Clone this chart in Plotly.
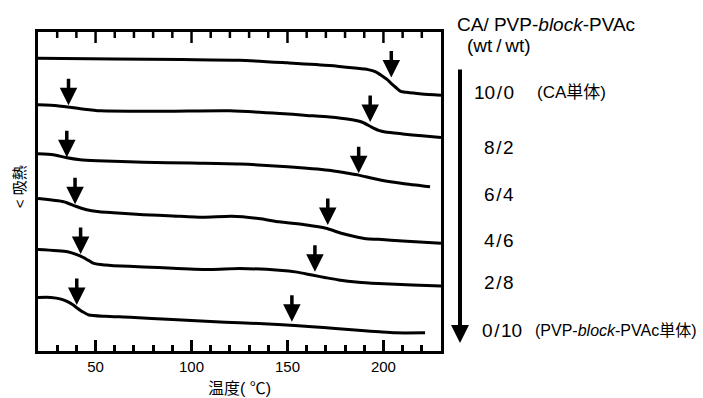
import plotly.graph_objects as go

# ---------------- data (temperature in °C, relative heat flow, arbitrary units) -------------
ratio_labels = ["10/0", "8/2", "6/4", "4/6", "2/8", "0/10"]

t_10_0 = [20, 60, 95, 125, 150, 172, 185, 192, 196, 199, 202, 204, 206.5, 209, 212, 220, 230]
v_10_0 = [90.8, 90.6, 90.4, 90.2, 89.4, 88.6, 87.8, 87.3, 86.6, 85.5, 84.2, 83.1, 81.8, 80.6, 80.3, 79.8, 79.4]

t_8_2 = [20, 30, 35.5, 44, 52.6, 70, 90, 120, 146, 160, 172, 182, 189, 193.8, 197.5, 201, 210, 220, 230]
v_8_2 = [76.5, 76.2, 75.8, 75.1, 74.6, 74.5, 74.5, 74.6, 73.8, 73.2, 72.7, 72.0, 71.1, 69.6, 68.6, 68.1, 67.5, 66.9, 66.4]

t_6_4 = [20, 28, 34.5, 42, 50.9, 75, 100, 125, 150, 171.6, 180, 187.1, 193, 199, 210, 224.3]
v_6_4 = [61.4, 61.1, 60.2, 59.5, 59.2, 58.8, 58.5, 58.2, 57.4, 56.3, 55.5, 54.8, 54.0, 53.2, 52.2, 51.2]

t_4_6 = [20, 33.4, 39.7, 44.8, 52, 59.3, 75, 90.3, 105.9, 121, 135, 145.7, 160, 170, 178, 185.5, 191, 197.4, 210, 230]
v_4_6 = [47.6, 46.6, 45.2, 44.2, 43.5, 43.2, 42.6, 42.2, 41.8, 42.1, 41.4, 40.4, 39.4, 38.4, 36.9, 35.8, 35.2, 35.0, 34.5, 33.8]

t_2_8 = [20, 35.4, 42.2, 46, 49, 55, 59.3, 75, 90.3, 110, 125, 145.7, 155, 162.8, 170, 176.7, 187, 197.4, 215, 230]
v_2_8 = [31.9, 31.2, 29.8, 28.6, 27.6, 27.1, 26.9, 26.5, 26.1, 25.7, 26.0, 25.5, 24.9, 24.0, 23.2, 22.5, 21.8, 21.4, 20.9, 20.6]

t_0_10 = [20, 26.7, 32, 35.4, 38, 40.5, 43.5, 46.5, 55, 68.1, 90, 110, 125, 145, 162.8, 175, 188.6, 198, 206.2, 221.7]
v_0_10 = [17.1, 17.1, 16.6, 15.8, 14.9, 13.8, 12.6, 11.7, 11.3, 11.0, 10.3, 9.7, 9.3, 8.8, 8.1, 7.5, 6.9, 6.5, 6.2, 6.2]

# glass-transition markers (arrow tips): temperature, signal
tg_t = [[204.1], [35.9, 193.1], [35.0, 187.1], [39.3, 171.0], [42.2, 164.3], [40.2, 152.3]]
tg_v = [[84.9], [76.3, 71.2], [60.3, 55.4], [45.8, 39.4], [30.5, 25.0], [14.8, 9.6]]

x_ticks = [50, 100, 150, 200]
x_minor_step = 10
x_range = [20, 230]

curves_t = [t_10_0, t_8_2, t_6_4, t_4_6, t_2_8, t_0_10]
curves_v = [v_10_0, v_8_2, v_6_4, v_4_6, v_2_8, v_0_10]

# ---------------- layout geometry ----------------
W, H = 703, 398
L, R, T, B = 38, 262, 31.5, 47
PW, PH = W - L - R, H - T - B
FONT = "Liberation Sans, Arial, Noto Sans CJK JP, sans-serif"
MAJOR_LEN, MINOR_LEN = 11, 6


def paper(px, py):
    return (px - L) / PW, (H - B - py) / PH


fig = go.Figure()
for ts, vs in zip(curves_t, curves_v):
    fig.add_trace(go.Scatter(x=ts, y=vs, mode="lines",
                             line=dict(color="black", width=3, shape="spline", smoothing=0.6),
                             hoverinfo="skip"))

annotations = []
for ts, vs in zip(tg_t, tg_v):
    for t, v in zip(ts, vs):
        annotations.append(dict(x=t, y=v, xref="x", yref="y", text="", showarrow=True,
                                ax=0, ay=-28, arrowhead=2, arrowsize=1.0, arrowwidth=3.5,
                                arrowcolor="black", standoff=0))


def label(px, py, text, size=19, anchor="left"):
    x, y = paper(px, py)
    annotations.append(dict(x=x, y=y, xref="paper", yref="paper", text=text, showarrow=False,
                            xanchor=anchor, yanchor="middle",
                            font=dict(family=FONT, size=size, color="black")))


label(455, 24, "CA/ PVP-<i>block</i>-PVAc", 19)
label(465, 45, "(wt\u2009/\u2009wt)", 19)
label_pos = [(472, 92), (482, 147), (482, 194), (482, 240), (482, 282), (480, 330)]
for (px, py), txt in zip(label_pos, ratio_labels):
    label(px, py, txt.replace("/", "\u200a/\u200a"), 19)
label(535, 92, "(CA単体)", 17)
label(533, 330, "(PVP-<i>block</i>-PVAc単体)", 16)

# big arrow of composition change
ax_, ay_ = paper(460, 343)
annotations.append(dict(x=ax_, y=ay_, xref="paper", yref="paper", text="", showarrow=True,
                        ax=0, ay=-275, arrowhead=2, arrowsize=0.9, arrowwidth=4,
                        arrowcolor="black", standoff=0))

# axis titles
yx, yy = paper(19, 187)
annotations.append(dict(x=yx, y=yy, xref="paper", yref="paper", text="< 吸熱", showarrow=False,
                        textangle=-90, xanchor="center", yanchor="middle",
                        font=dict(family=FONT, size=15, color="black")))
xx, xy = paper(240, 388.5)
annotations.append(dict(x=xx, y=xy, xref="paper", yref="paper", text="温度( ℃)", showarrow=False,
                        xanchor="center", yanchor="middle",
                        font=dict(family=FONT, size=16, color="black")))

# ticks along the top frame (pointing inward), placed on the x-axis scale
shapes = []
for t in range(x_range[0] + x_minor_step, x_range[1], x_minor_step):
    ln = MAJOR_LEN if t in x_ticks else MINOR_LEN
    shapes.append(dict(type="line", xref="x", yref="paper", x0=t, x1=t, y0=1, y1=1 - ln / PH,
                       line=dict(color="black", width=2.5), layer="above"))

fig.update_layout(
    width=W, height=H, margin=dict(l=L, r=R, t=T, b=B),
    plot_bgcolor="white", paper_bgcolor="white", showlegend=False,
    annotations=annotations, shapes=shapes,
    xaxis=dict(range=x_range, tickvals=x_ticks, showline=True, linewidth=3, linecolor="black",
               mirror=True, ticks="inside", ticklen=MAJOR_LEN, tickwidth=2.5, tickcolor="black",
               showgrid=False, zeroline=False,
               tickfont=dict(family=FONT, size=15, color="black"),
               minor=dict(ticks="inside", dtick=x_minor_step, tick0=0, ticklen=MINOR_LEN,
                          tickwidth=2.5, tickcolor="black", showgrid=False)),
    yaxis=dict(range=[0.6, 98.9], showticklabels=False, ticks="", showline=True, linewidth=3,
               linecolor="black", mirror=True, showgrid=False, zeroline=False),
)

fig.write_html("out.html", config={"displayModeBar": False},
               post_script="document.body.style.margin='0';document.body.style.overflow='hidden';")
